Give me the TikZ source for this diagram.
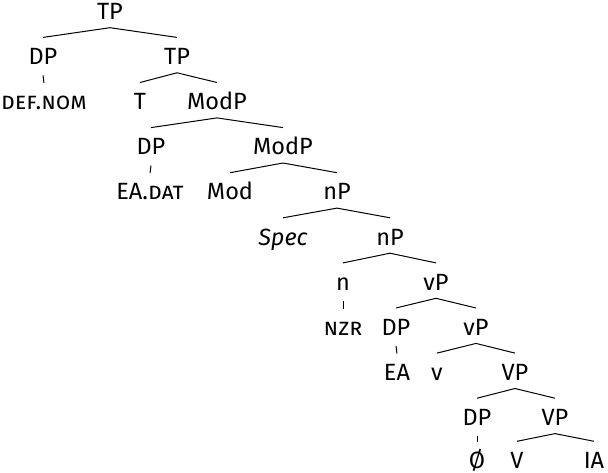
\documentclass[tikz,border=0pt]{standalone}
\usepackage{fontspec}
\setmainfont{Fira Sans}
\begin{document}
\begin{tikzpicture}[x=1pt,y=-1pt,
  lab/.style={anchor=base,inner sep=0pt,text height=15pt,text depth=0pt,font=\fontsize{23.5}{28}\selectfont},
  br/.style={line width=1pt},
]
\useasboundingbox (0,0) rectangle (608,472);
\def\LA{19.5}\def\LB{64.6}\def\LC{109.7}\def\LD{154.8}\def\LE{199.9}\def\LF{245}
\def\LG{290.1}\def\LH{335.2}\def\LI{380.3}\def\LJ{425.4}\def\LK{468.5}
\node[lab] (tp1) at (110,\LA) {TP};
\node[lab] (dp1) at (43,\LB) {DP};
\node[lab] (tp2) at (177,\LB) {TP};
\node[lab] (defnom) at (44,\LC) {\textsc{def.nom}};
\node[lab] (t) at (140,\LC) {T};
\node[lab] (modp1) at (217,\LC) {ModP};
\node[lab] (dp2) at (151,\LD) {DP};
\node[lab] (modp2) at (283,\LD) {ModP};
\node[lab] (eadat) at (150,\LE) {EA.\textsc{dat}};
\node[lab] (mod) at (230,\LE) {Mod};
\node[lab] (np1) at (337,\LE) {nP};
\node[lab] (spec) at (283,\LF) {\textit{Spec}};
\node[lab] (np2) at (390,\LF) {nP};
\node[lab] (n) at (343,\LG) {n};
\node[lab] (vp1) at (436,\LG) {vP};
\node[lab] (nzr) at (343,\LH) {\textsc{nzr}};
\node[lab] (dp3) at (396,\LH) {DP};
\node[lab] (vp2) at (476,\LH) {vP};
\node[lab] (ea) at (397,\LI) {EA};
\node[lab] (v) at (437,\LI) {v};
\node[lab] (VP1) at (515,\LI) {VP};
\node[lab] (dp4) at (477,\LJ) {DP};
\node[lab] (VP2) at (555,\LJ) {VP};
\node[lab] (empty) at (477,\LK) {Ø};
\node[lab] (V) at (517,\LK) {V};
\node[lab] (ia) at (594,\LK) {IA};
% binary branches
\foreach \p/\c in {tp1/dp1,tp1/tp2,tp2/t,tp2/modp1,modp1/dp2,modp1/modp2,modp2/mod,modp2/np1,
  np1/spec,np1/np2,np2/n,np2/vp1,vp1/dp3,vp1/vp2,vp2/v,vp2/VP1,VP1/dp4,VP1/VP2,VP2/V,VP2/ia}
  \draw[br] ([yshift=-8pt]\p.south) -- ([yshift=12pt]\c.north);
% unary branches
\foreach \p/\c in {dp1/defnom,dp2/eadat,n/nzr,dp3/ea,dp4/empty}
  \draw[br] ([yshift=-10.5pt]\p.south) -- ([yshift=11.5pt]\c.north);
\end{tikzpicture}
\end{document}
